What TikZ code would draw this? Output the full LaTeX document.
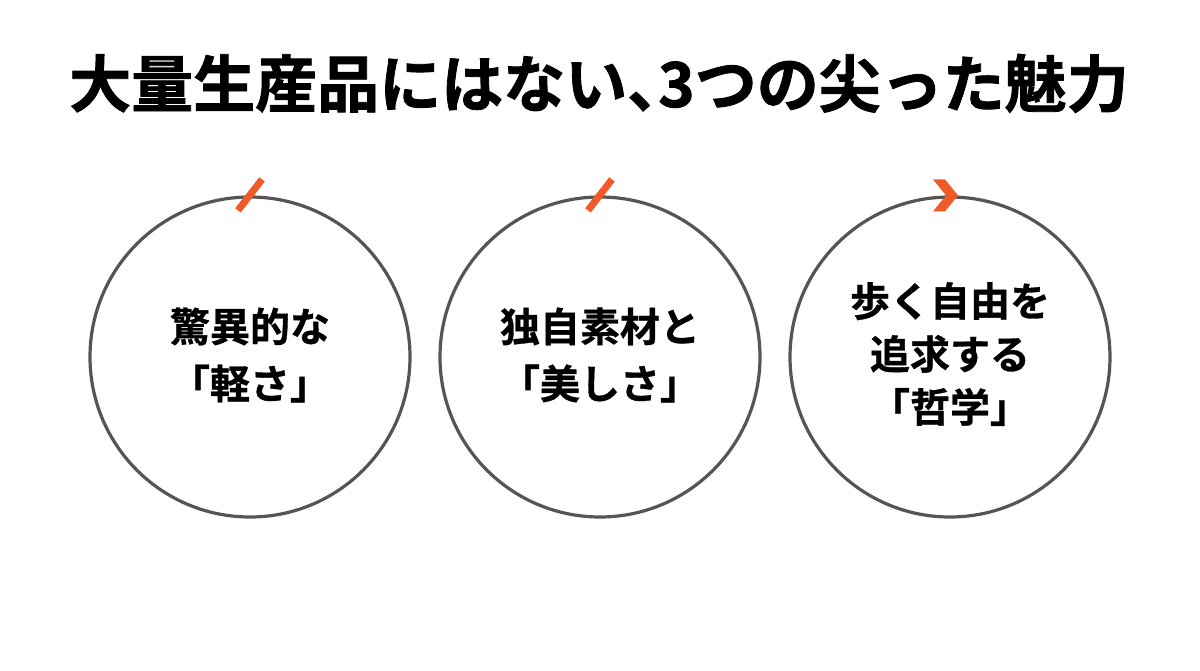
\documentclass[tikz,border=0pt]{standalone}
\usepackage{fontspec}
\setmainfont{Noto Sans CJK JP}[BoldFont={* Bold}]
\newfontfamily\jpb{Noto Sans CJK JP Bold}[FakeBold=0.8]
\newfontfamily\jpbb{Noto Sans CJK JP Bold}[FakeBold=1.3]
\definecolor{ringgray}{HTML}{555555}
\definecolor{accent}{HTML}{F05A28}
\tikzset{
  ring/.style={draw=ringgray, line width=3.2pt, circle, minimum size=320pt, inner sep=0pt},
  ringtext/.style={font=\jpb\fontsize{40pt}{57pt}\selectfont, align=center, text=black},
  titletext/.style={font=\jpbb\fontsize{62pt}{66pt}\selectfont, text=black, inner sep=0pt},
  slashmark/.style={draw=accent, line width=7pt},
  chevmark/.style={fill=accent}
}
\begin{document}
\begin{tikzpicture}[x=1pt,y=-1pt]
\useasboundingbox (0,0) rectangle (1200,670);
\fill[white] (0,0) rectangle (1200,670);
\node[titletext, anchor=base] (title) at (599,107) {大量生産品にはない\makebox[0.5em][l]{、}3つの尖った魅力};
\node[ring] (c1) at (250,357) {};
\node[ring] (c2) at (600,357) {};
\node[ring] (c3) at (950,357) {};
\node[ringtext] (t1) at ([yshift=2pt]c1.center) {驚異的な\\「軽さ」};
\node[ringtext] (t2) at ([yshift=2pt]c2.center) {独自素材と\\「美しさ」};
\node[ringtext, font=\jpb\fontsize{40pt}{53pt}\selectfont] (t3) at ([yshift=3pt]c3.center) {歩く自由を\\追求する\\「哲学」};
\coordinate (s1a) at ([shift={(-12,15)}]c1.north);
\coordinate (s1b) at ([shift={(12,-16)}]c1.north);
\draw[slashmark] (s1a) -- (s1b);
\coordinate (s2a) at ([shift={(-12,15)}]c2.north);
\coordinate (s2b) at ([shift={(12,-16)}]c2.north);
\draw[slashmark] (s2a) -- (s2b);
\fill[chevmark] ([shift={(-17,-16)}]c3.north) -- ([shift={(-5,-16)}]c3.north) -- ([shift={(8,0)}]c3.north) -- ([shift={(-5,16)}]c3.north) -- ([shift={(-17,16)}]c3.north) -- ([shift={(-4,0)}]c3.north) -- cycle;
\end{tikzpicture}
\end{document}
